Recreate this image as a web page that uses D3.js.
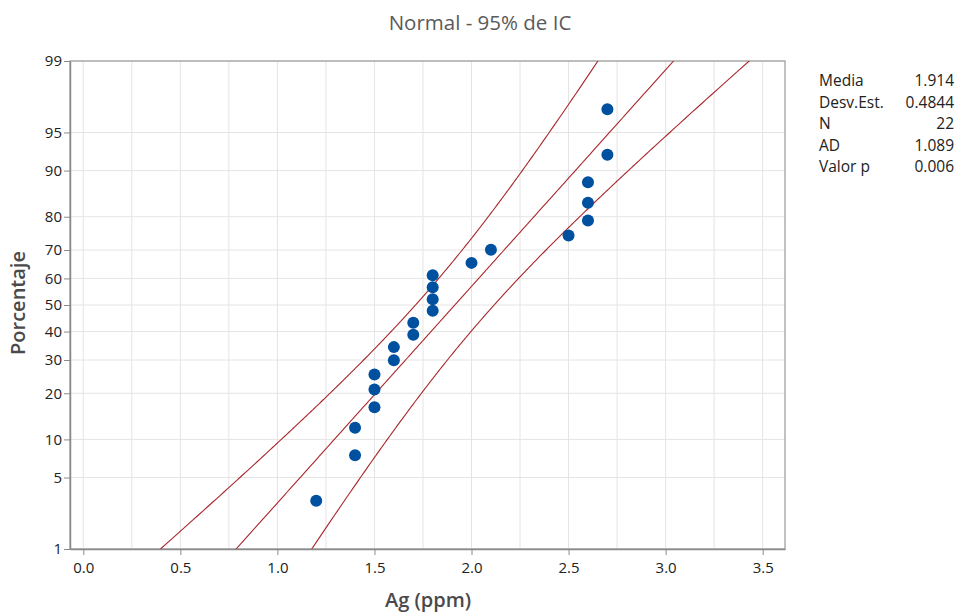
<!DOCTYPE html>
<html>
<head>
<meta charset="utf-8">
<script src="https://cdn.jsdelivr.net/npm/d3@7"></script>
<style>
  html, body { margin: 0; padding: 0; background: #fff; }
  svg { display: block; font-family: "Open Sans", "Noto Sans", sans-serif; }
</style>
</head>
<body>
<svg id="chart" width="958" height="614"></svg>
<script>
// ---- Data ----
const agValues = [1.2, 1.4, 1.4, 1.5, 1.5, 1.5, 1.6, 1.6, 1.7, 1.7, 1.8, 1.8, 1.8, 1.8, 2.0, 2.1, 2.5, 2.6, 2.6, 2.6, 2.7, 2.7];
const percentValues = [3.1, 7.6, 12.1, 16.5, 21.0, 25.4, 29.9, 34.4, 38.8, 43.3, 47.8, 52.2, 56.7, 61.2, 65.6, 70.1, 74.6, 79.0, 83.5, 87.9, 92.4, 96.9];
const yTickValues = [1, 5, 10, 20, 30, 40, 50, 60, 70, 80, 90, 95, 99];
const xTickValues = [0.0, 0.5, 1.0, 1.5, 2.0, 2.5, 3.0, 3.5];
const xGridValues = [0.0, 0.25, 0.5, 0.75, 1.0, 1.25, 1.5, 1.75, 2.0, 2.25, 2.5, 2.75, 3.0, 3.25, 3.5];
const statLabels = ["Media", "Desv.Est.", "N", "AD", "Valor p"];
const statValues = ["1.914", "0.4844", "22", "1.089", "0.006"];
const fitMean = 1.914;
const fitSd = 0.4844;
const fitN = 22;
const confZ = 1.96;

// inverse standard normal CDF (Acklam)
function qnorm(p) {
  const a = [-3.969683028665376e+01, 2.209460984245205e+02, -2.759285104469687e+02, 1.383577518672690e+02, -3.066479806614716e+01, 2.506628277459239e+00];
  const b = [-5.447609879822406e+01, 1.615858368580409e+02, -1.556989798598866e+02, 6.680131188771972e+01, -1.328068155288572e+01];
  const c = [-7.784894002430293e-03, -3.223964580411365e-01, -2.400758277161838e+00, -2.549732539343734e+00, 4.374664141464968e+00, 2.938163982698783e+00];
  const d = [7.784695709041462e-03, 3.224671290700398e-01, 2.445134137142996e+00, 3.754408661907416e+00];
  const pl = 0.02425, ph = 1 - pl;
  let q, r;
  if (p < pl) {
    q = Math.sqrt(-2 * Math.log(p));
    return (((((c[0]*q+c[1])*q+c[2])*q+c[3])*q+c[4])*q+c[5]) / ((((d[0]*q+d[1])*q+d[2])*q+d[3])*q+1);
  } else if (p <= ph) {
    q = p - 0.5; r = q*q;
    return (((((a[0]*r+a[1])*r+a[2])*r+a[3])*r+a[4])*r+a[5])*q / (((((b[0]*r+b[1])*r+b[2])*r+b[3])*r+b[4])*r+1);
  } else {
    q = Math.sqrt(-2 * Math.log(1 - p));
    return -(((((c[0]*q+c[1])*q+c[2])*q+c[3])*q+c[4])*q+c[5]) / ((((d[0]*q+d[1])*q+d[2])*q+d[3])*q+1);
  }
}

const svg = d3.select("#chart");
const pL = 70, pR = 785, pT = 61, pB = 549;

const x = d3.scaleLinear().domain([-0.0685, 3.615]).range([pL, pR]);
// probability scale: linear in z
const zScale = d3.scaleLinear().domain([qnorm(0.01), qnorm(0.99)]).range([pB, pT]);
const y = p => zScale(qnorm(p / 100));

// clip
svg.append("defs").append("clipPath").attr("id", "clip")
  .append("rect").attr("x", pL).attr("y", pT).attr("width", pR - pL).attr("height", pB - pT);

// gridlines
const grid = svg.append("g");
grid.selectAll(".vg").data(xGridValues).enter().append("line")
  .attr("x1", d => x(d)).attr("x2", d => x(d)).attr("y1", pT).attr("y2", pB)
  .attr("stroke", "#e4e4e4").attr("stroke-width", 1);
grid.selectAll(".hg").data(yTickValues).enter().append("line")
  .attr("x1", pL).attr("x2", pR).attr("y1", d => y(d)).attr("y2", d => y(d))
  .attr("stroke", "#e4e4e4").attr("stroke-width", 1);

// frame
svg.append("rect").attr("x", pL).attr("y", pT).attr("width", pR - pL).attr("height", pB - pT)
  .attr("fill", "none").attr("stroke", "#9a9a9a").attr("stroke-width", 1.2);

// fitted line and confidence bands
const probs = d3.range(0.5, 99.51, 0.25);
const curve = (k) => probs.map(p => {
  const z = qnorm(p / 100);
  const xp = fitMean + z * fitSd;
  const se = fitSd * Math.sqrt(1 / fitN + z * z / (2 * fitN));
  return [x(xp + k * confZ * se), y(p)];
});
const lineGen = d3.line();
const lines = svg.append("g").attr("clip-path", "url(#clip)");
[-1, 0, 1].forEach(k => {
  lines.append("path").attr("d", lineGen(curve(k)))
    .attr("fill", "none").attr("stroke", "#a8262b").attr("stroke-width", 1.1);
});

// points
svg.append("g").selectAll("circle").data(agValues).enter().append("circle")
  .attr("cx", d => x(d)).attr("cy", (d, i) => y(percentValues[i]))
  .attr("r", 6).attr("fill", "#0050a0");

// axes
const xAxis = d3.axisBottom(x).tickValues(xTickValues).tickFormat(d3.format(".1f")).tickSize(6).tickSizeOuter(0);
const gx = svg.append("g").attr("transform", `translate(0,${pB})`).call(xAxis);
gx.select(".domain").attr("stroke", "#8a8a8a").attr("stroke-width", 1.5);
gx.selectAll(".tick line").attr("stroke", "#8a8a8a");
gx.selectAll(".tick text").attr("font-size", 15).attr("fill", "#222").attr("dy", "1.0em")
  .attr("font-family", "'Open Sans', sans-serif");

const yAxis = d3.axisLeft(zScale).tickValues(yTickValues.map(v => qnorm(v / 100))).tickFormat((d, i) => yTickValues[i]).tickSize(6).tickSizeOuter(0);
const gy = svg.append("g").attr("transform", `translate(${pL},0)`).call(yAxis);
gy.select(".domain").attr("stroke", "#8a8a8a").attr("stroke-width", 1.5);
gy.selectAll(".tick line").attr("stroke", "#8a8a8a");
gy.selectAll(".tick text").attr("font-size", 15).attr("fill", "#222").attr("x", -8)
  .attr("font-family", "'Open Sans', sans-serif");

// title
svg.append("text").attr("x", 480).attr("y", 30).attr("text-anchor", "middle")
  .attr("font-size", 20.5).attr("fill", "#5a5a5a").text("Normal - 95% de IC");

// axis titles
svg.append("text").attr("x", 428).attr("y", 607).attr("text-anchor", "middle")
  .attr("font-size", 20).attr("font-weight", 600).attr("fill", "#4a4a4a").text("Ag (ppm)");
svg.append("text").attr("transform", "translate(25,303) rotate(-90)").attr("text-anchor", "middle")
  .attr("font-size", 20).attr("font-weight", 600).attr("fill", "#4a4a4a").text("Porcentaje");

// stats table
const stats = svg.append("g").attr("font-size", 15.5).attr("fill", "#222");
statLabels.forEach((lab, i) => {
  stats.append("text").attr("x", 819).attr("y", 86 + i * 21.6).text(lab);
  stats.append("text").attr("x", 954).attr("y", 86 + i * 21.6).attr("text-anchor", "end").text(statValues[i]);
});
</script>
</body>
</html>
